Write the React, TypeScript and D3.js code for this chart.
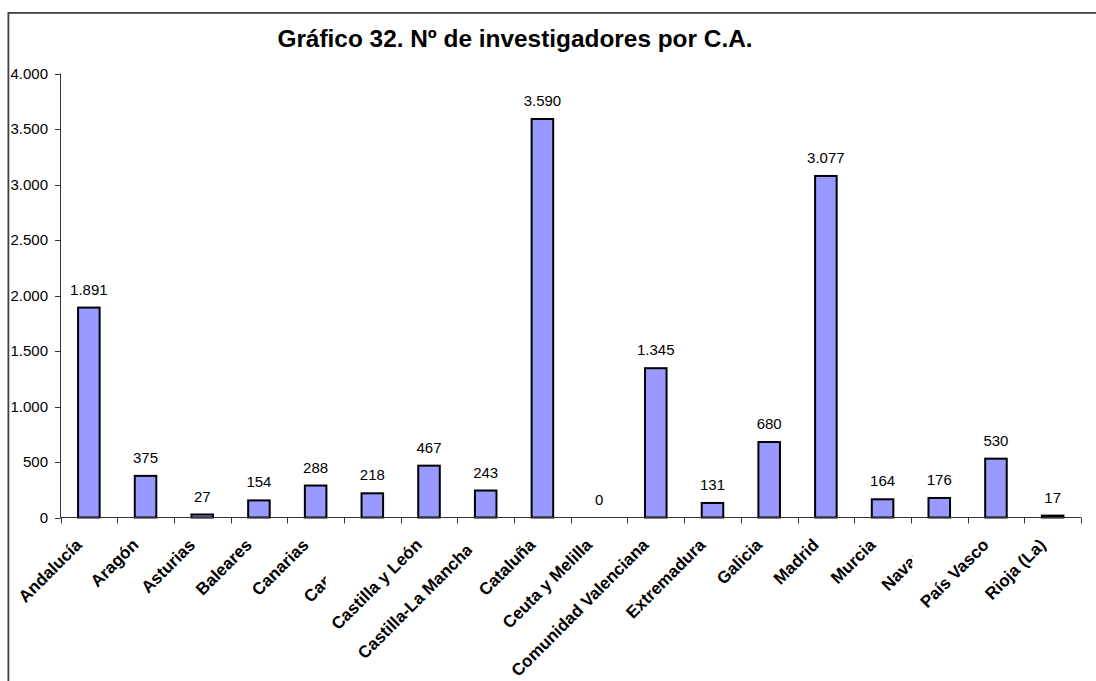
import React from 'react';
import * as d3 from 'd3';

const categories = [
  'Andalucía', 'Aragón', 'Asturias', 'Baleares', 'Canarias', 'Cantabria',
  'Castilla y León', 'Castilla-La Mancha', 'Cataluña', 'Ceuta y Melilla',
  'Comunidad Valenciana', 'Extremadura', 'Galicia', 'Madrid', 'Murcia',
  'Navarra', 'País Vasco', 'Rioja (La)',
];
const values = [1891, 375, 27, 154, 288, 218, 467, 243, 3590, 0, 1345, 131, 680, 3077, 164, 176, 530, 17];
const yTicks = [0, 500, 1000, 1500, 2000, 2500, 3000, 3500, 4000];
const title = 'Gráfico 32. Nº de investigadores por C.A.';

// styling: clipped (overlapping) category labels, as in the original rendering
const labelClip: Record<string, number> = { 'Cantabria': -46.7, 'Castilla-La Mancha': -13.4, 'Navarra': -27 };
const labelShift: Record<string, [number, number]> = { 'Castilla-La Mancha': [-6, 5], 'Cantabria': [0, 2], 'Navarra': [0, 1] };

const W = 1096, H = 681;
const FONT = 'Arial, "Liberation Sans", sans-serif';

export default function App() {
  const x = d3.scaleBand<string>().domain(categories).range([60.5, 1081]).padding(0);
  const y = d3.scaleLinear().domain([0, 4000]).range([517.5, 73.5]);
  const loc = d3.formatLocale({ decimal: ',', thousands: '.', grouping: [3], currency: ['', '€'] });
  const fmt = loc.format(',d');
  const step = x.step();
  const barW = step * 0.38;
  const y0 = y(0);

  return (
    <svg width={W} height={H} style={{ position: 'absolute', left: 0, top: 0, background: '#fff' }} fontFamily={FONT}>
      <defs>
        {categories.map((c, i) =>
          labelClip[c] !== undefined ? (
            <clipPath id={`clip${i}`} key={c} clipPathUnits="userSpaceOnUse">
              <rect x={0} y={0} width={(x(c)! + step / 2) + labelClip[c]} height={H} />
            </clipPath>
          ) : null
        )}
      </defs>
      {/* frame */}
      <rect x={8.4} y={12.9} width={W} height={H} fill="none" stroke="#404040" strokeWidth={1.8} />
      {/* title */}
      <text x={515} y={47} textAnchor="middle" fontWeight="bold" fontSize={24.4} fill="#000">{title}</text>

      {/* bars */}
      {categories.map((c, i) => {
        const v = values[i];
        const cx = x(c)! + step / 2;
        return (
          <g key={c}>
            {v > 0 && (
              <rect x={cx - barW / 2} y={y(v)} width={barW} height={y0 - y(v)} fill="#9999FF" stroke="#000" strokeWidth={2} />
            )}
            <text x={cx} y={y(v) - 13} textAnchor="middle" fontSize={15} fill="#000">{fmt(v)}</text>
          </g>
        );
      })}

      {/* y axis */}
      <line x1={60.5} x2={60.5} y1={73.5} y2={y0} stroke="#333" strokeWidth={1} />
      {yTicks.map(t => (
        <g key={t}>
          <line x1={55} x2={60.5} y1={Math.round(y(t)) + 0.5} y2={Math.round(y(t)) + 0.5} stroke="#333" strokeWidth={1} />
          <text x={48} y={y(t)} dy="0.35em" textAnchor="end" fontSize={15} fill="#000">{fmt(t)}</text>
        </g>
      ))}

      {/* x axis */}
      <line x1={60.5} x2={1081} y1={y0} y2={y0} stroke="#333" strokeWidth={1} />
      {categories.concat(['__end']).map((c, i) => {
        const tx = Math.round(60.5 + step * i) + 0.5;
        return <line key={'t' + i} x1={tx} x2={tx} y1={y0} y2={y0 + 6} stroke="#333" strokeWidth={1} />;
      })}
      {categories.map((c, i) => {
        const cx = x(c)! + step / 2;
        const sh = labelShift[c] || [0, 0];
        const px = cx - 6 + sh[0];
        const py = 546 + sh[1];
        return (
          <g key={'l' + c} clipPath={labelClip[c] !== undefined ? `url(#clip${i})` : undefined}>
            <text
              transform={`translate(${px},${py}) rotate(-45)`}
              textAnchor="end"
              fontWeight="bold"
              fontSize={17}
              fill="#000"
            >
              {c}
            </text>
          </g>
        );
      })}
    </svg>
  );
}
